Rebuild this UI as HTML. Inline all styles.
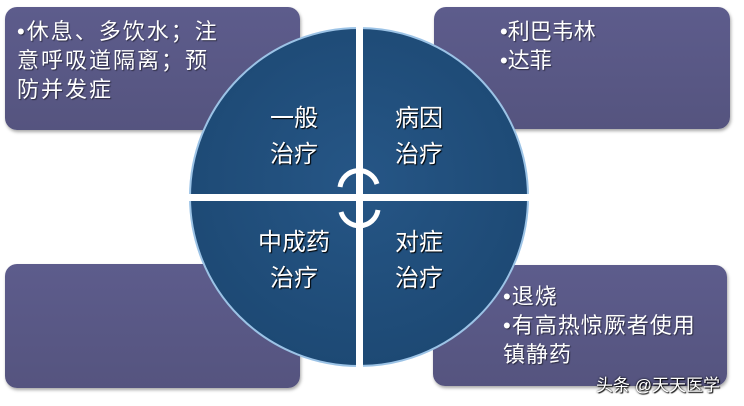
<!DOCTYPE html>
<html><head><meta charset="utf-8"><style>
html,body{margin:0;padding:0;background:#fff;width:744px;height:406px;overflow:hidden;position:relative;font-family:"Liberation Sans","Noto Sans CJK SC",sans-serif}
.box{position:absolute;background:linear-gradient(#5d5c8c,#55547f);border-radius:12px;box-shadow:1px 2px 3px rgba(0,0,0,.35);color:#fff;font-size:22px;line-height:29px;text-shadow:1px 1px 1px rgba(0,0,0,.5);white-space:nowrap}
.wm{position:absolute;left:596px;top:371px;color:#fff;font-size:17px;text-shadow:0 0 2px #000,1px 1px 1px #000}
</style></head><body>
<div class="box" style="left:5px;top:7px;width:295px;height:123px;padding:0"><div style="position:absolute;left:12px;top:10px;letter-spacing:2px">•休息、多饮水；注<br>意呼吸道隔离；预<br>防并发症</div></div>
<div class="box" style="left:434px;top:7px;width:296px;height:122px"><div style="position:absolute;left:66px;top:10px">•利巴韦林<br>•达菲</div></div>
<div class="box" style="left:5px;top:264px;width:295px;height:124px"></div>
<div class="box" style="left:433px;top:265px;width:294px;height:121px"><div style="position:absolute;left:70px;top:17px;letter-spacing:1px">•退烧<br>•有高热惊厥者使用<br>镇静药</div></div>
<svg style="position:absolute;left:0;top:0" width="744" height="406">
<defs><radialGradient id="g" cx="50%" cy="45%" r="55%"><stop offset="0" stop-color="#265686"/><stop offset="1" stop-color="#1d4974"/></radialGradient></defs>
<circle cx="359" cy="197" r="169" fill="url(#g)" stroke="#9cc3e6" stroke-width="2"/>
<rect x="356" y="26" width="7" height="345" fill="#fff"/>
<rect x="186" y="194" width="346" height="7" fill="#fff"/>
<path d="M340 187 A19 19 0 0 1 377 184" fill="none" stroke="#fff" stroke-width="5"/>
<path d="M378 210 A19 19 0 0 1 341 212" fill="none" stroke="#fff" stroke-width="5"/>
<g fill="#fff" font-size="24" font-family="Liberation Sans,Noto Sans CJK SC,sans-serif" style="text-shadow:1px 1px 1px #000">
<text x="270" y="126">一般</text><text x="270" y="162">治疗</text>
<text x="395" y="126">病因</text><text x="395" y="162">治疗</text>
<text x="258" y="250">中成药</text><text x="270" y="286">治疗</text>
<text x="395" y="250">对症</text><text x="395" y="286">治疗</text>
</g></svg>
<div class="wm">头条 @天天医学</div>
</body></html>
